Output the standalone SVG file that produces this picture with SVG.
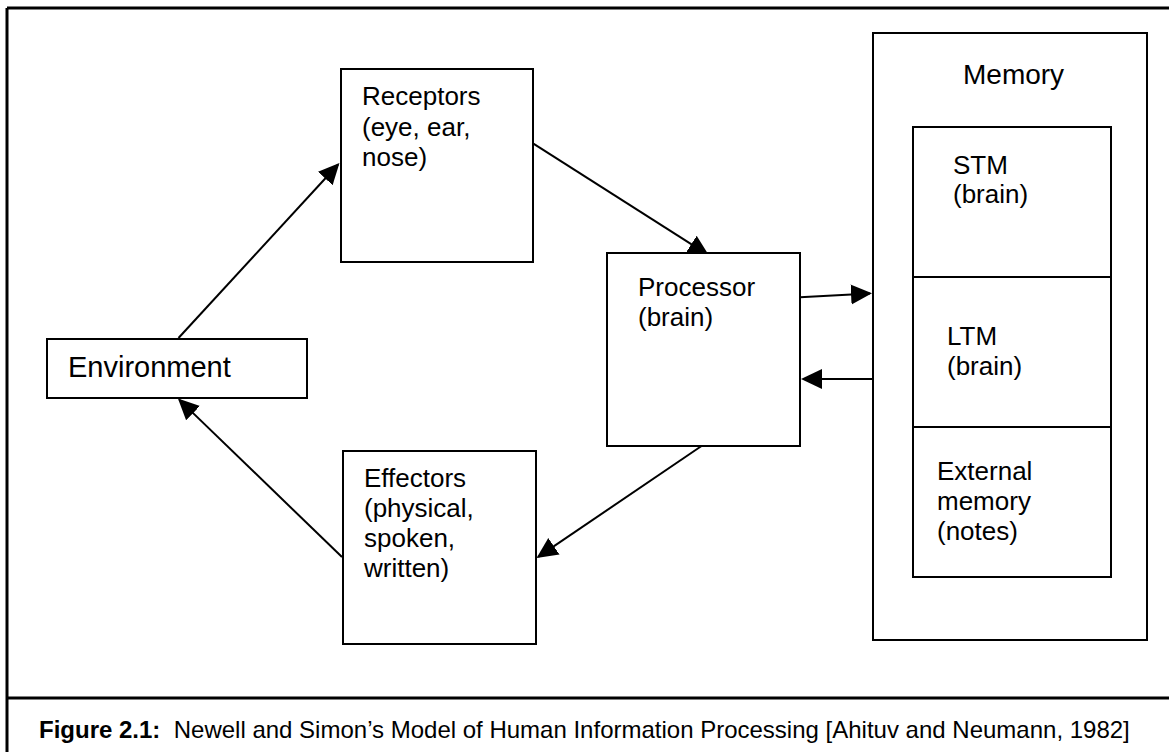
<svg xmlns="http://www.w3.org/2000/svg" width="1169" height="752" viewBox="0 0 1169 752">
<style>
  .frame { fill: none; stroke: #000; stroke-width: 3; }
  .box { fill: #fff; stroke: #000; stroke-width: 2; }
  .line { fill: none; stroke: #000; stroke-width: 2; }
  .conn { fill: none; stroke: #000; stroke-width: 2; marker-end: url(#arrow); }
  text { font-family: "Liberation Sans", Arial, Helvetica, sans-serif; fill: #000; }
  .t { font-size: 26px; }
  .cap { font-size: 24px; white-space: pre; }
</style>
<defs>
  <marker id="arrow" markerUnits="userSpaceOnUse" markerWidth="22" markerHeight="22" viewBox="0 0 22 22" refX="19" refY="10" orient="auto">
    <path d="M0,0 L21,10 L0,20 Z" fill="#000"/>
  </marker>
</defs>
<rect width="1169" height="752" fill="#fff"/>
<g id="frame">
  <path class="frame" d="M7,8 H1169 M7,8 V752 M7,698 H1169"/>
</g>
<g id="connectors">
  <line class="conn" x1="178.5" y1="338" x2="338.1" y2="164.5"/>
  <line class="conn" x1="533" y1="143.3" x2="707.3" y2="254.4"/>
  <line class="conn" x1="800" y1="297.3" x2="870" y2="293.4"/>
  <line class="conn" x1="872.7" y1="379" x2="803" y2="379"/>
  <line class="conn" x1="703" y1="445" x2="538.2" y2="556.9"/>
  <line class="conn" x1="342" y1="557" x2="179.4" y2="399.9"/>
</g>
<g id="receptors">
  <rect class="box" x="341" y="69" width="192" height="193"/>
  <text class="t" x="362" y="105">Receptors</text>
  <text class="t" x="362" y="136">(eye, ear,</text>
  <text class="t" x="362" y="166">nose)</text>
</g>
<g id="environment">
  <rect class="box" x="47" y="339" width="260" height="59"/>
  <text x="68" y="377" font-size="29">Environment</text>
</g>
<g id="processor">
  <rect class="box" x="607" y="253" width="193" height="193"/>
  <text class="t" x="638" y="296">Processor</text>
  <text class="t" x="638" y="326">(brain)</text>
</g>
<g id="effectors">
  <rect class="box" x="343" y="451" width="193" height="193"/>
  <text class="t" x="364" y="487">Effectors</text>
  <text class="t" x="364" y="517">(physical,</text>
  <text class="t" x="364" y="547">spoken,</text>
  <text class="t" x="364" y="577">written)</text>
</g>
<g id="memory">
  <rect class="box" x="873" y="33" width="274" height="607"/>
  <text x="963" y="84" font-size="28">Memory</text>
  <rect class="box" x="913" y="127" width="198" height="450"/>
  <line class="line" x1="913" y1="277" x2="1111" y2="277"/>
  <line class="line" x1="913" y1="427" x2="1111" y2="427"/>
</g>
<g id="stm">
  <text class="t" x="953" y="173.5">STM</text>
  <text class="t" x="953" y="203">(brain)</text>
</g>
<g id="ltm">
  <text class="t" x="947" y="345">LTM</text>
  <text class="t" x="947" y="375">(brain)</text>
</g>
<g id="external-memory">
  <text class="t" x="937" y="480">External</text>
  <text class="t" x="937" y="510">memory</text>
  <text class="t" x="937" y="540">(notes)</text>
</g>
<g id="caption">
  <text class="cap" x="39" y="738"><tspan font-weight="bold">Figure 2.1:</tspan>  Newell and Simon’s Model of Human Information Processing [Ahituv and Neumann, 1982]</text>
</g>
</svg>
